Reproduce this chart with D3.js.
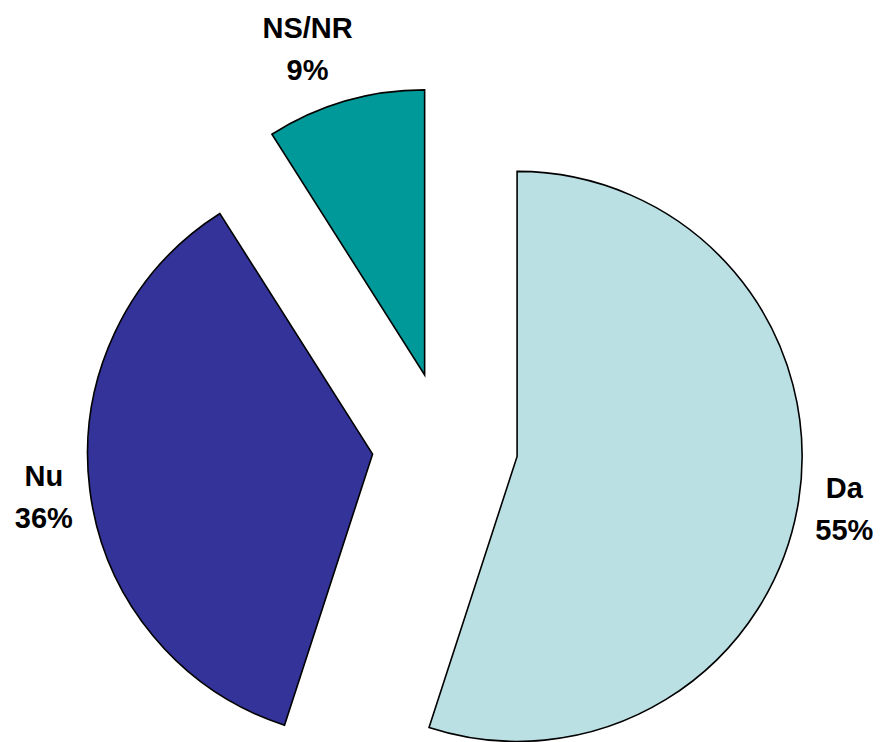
<!DOCTYPE html>
<html><head><meta charset="utf-8">
<script src="https://cdn.jsdelivr.net/npm/d3@7"></script>
<style>body{margin:0;background:#fff}svg{display:block}</style>
</head><body>
<script>
const categories = ["Da", "Nu", "NS/NR"];
const values = [55, 36, 9];
const labels = ["55%", "36%", "9%"];
const colors = ["#BBE0E3", "#333399", "#009999"];

const W = 881, H = 742;
const cx = 445, cy = 445, R = 285, explode = 73, gap = 17;

const svg = d3.select("body").append("svg").attr("width", W).attr("height", H);
const pie = d3.pie().sort(null).value(d => d)(values);
const arc = d3.arc().innerRadius(0).outerRadius(R);

pie.forEach((p, i) => {
  const mid = (p.startAngle + p.endAngle) / 2;
  const sx = Math.sin(mid), sy = -Math.cos(mid);
  const ox = cx + explode * sx, oy = cy + explode * sy;
  svg.append("path")
    .attr("d", arc(p))
    .attr("transform", `translate(${ox},${oy})`)
    .attr("fill", colors[i])
    .attr("stroke", "#000")
    .attr("stroke-width", 1.6)
    .attr("stroke-linejoin", "miter");

  const g = svg.append("g");
  const t = g.append("text")
    .attr("text-anchor", "middle")
    .attr("font-family", "Liberation Sans, Arial, sans-serif")
    .attr("font-weight", "bold")
    .attr("font-size", 29)
    .attr("fill", "#000");
  t.append("tspan").attr("x", 0).attr("y", 0).text(categories[i]);
  t.append("tspan").attr("x", 0).attr("y", 42).text(labels[i]);
  const bb = t.node().getBBox();
  const bcx = bb.x + bb.width / 2, bcy = bb.y + bb.height / 2;
  const px = ox + (R + gap) * sx, py = oy + (R + gap) * sy;
  const lx = px + Math.sign(sx) * Math.pow(Math.abs(sx), 0.25) * bb.width / 2;
  const ly = py + sy * bb.height / 2;
  g.attr("transform", `translate(${lx - bcx},${ly - bcy})`);
});
</script>
</body></html>
